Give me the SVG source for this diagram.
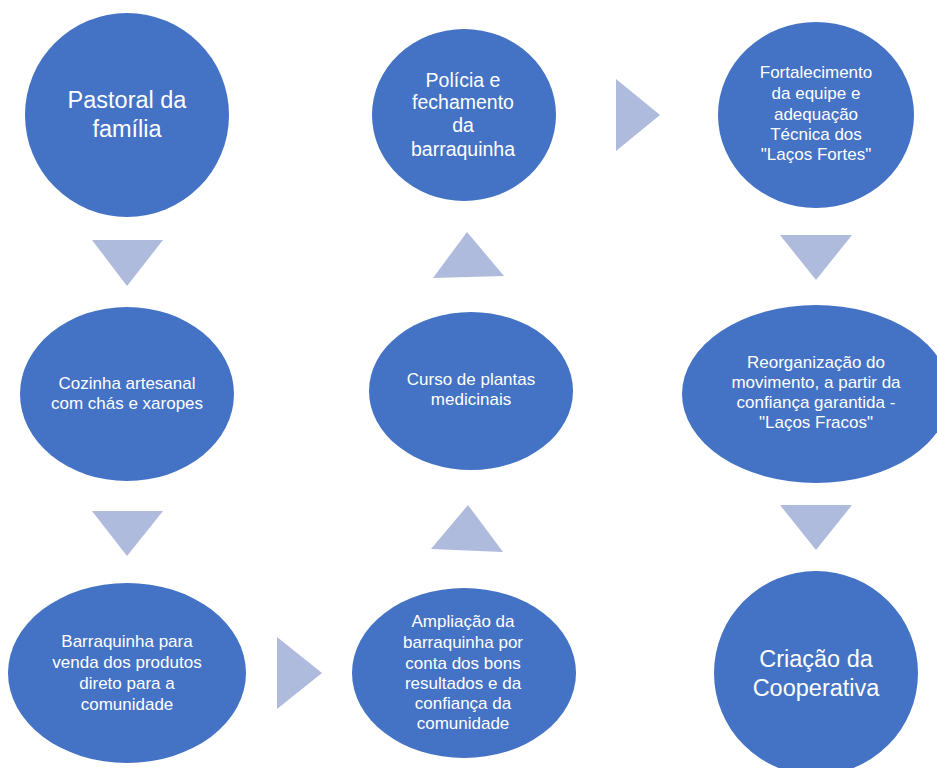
<svg xmlns="http://www.w3.org/2000/svg" width="937" height="768" viewBox="0 0 937 768">
<style>
.node{fill:#4472C4;}
.arr{fill:#AFBBDC;}
text{font-family:"Liberation Sans",Arial,sans-serif;fill:#FFFFFF;text-anchor:middle;}
.s{font-size:17px;}
.m{font-size:19.5px;}
.b{font-size:23.5px;}
</style>
<rect width="937" height="768" fill="#FFFFFF"/>
<g id="connectors">
<polygon class="arr" points="92,240 163,240 127,286"/>
<polygon class="arr" points="92,511 163,511 127,556"/>
<polygon class="arr" points="277,637 277,709 322,673"/>
<polygon class="arr" points="431,549 503,552 468,505"/>
<polygon class="arr" points="433,278 504,276 467,232"/>
<polygon class="arr" points="616,79 616,151 660,115"/>
<polygon class="arr" points="780,235 852,235 816,280"/>
<polygon class="arr" points="780,505 852,505 816,550"/>
</g>
<g id="n1">
<ellipse class="node" cx="127" cy="115" rx="102" ry="102"/>
<text class="b" x="127" y="108">Pastoral da</text>
<text class="b" x="127" y="137">família</text>
</g>
<g id="n2">
<ellipse class="node" cx="127" cy="394" rx="107" ry="87"/>
<text class="s" x="127" y="389">Cozinha artesanal</text>
<text class="s" x="127" y="409">com chás e xaropes</text>
</g>
<g id="n3">
<ellipse class="node" cx="127" cy="673" rx="119" ry="90"/>
<text class="s" x="127" y="647">Barraquinha para</text>
<text class="s" x="127" y="668">venda dos produtos</text>
<text class="s" x="127" y="689">direto para a</text>
<text class="s" x="127" y="710">comunidade</text>
</g>
<g id="n4">
<ellipse class="node" cx="464" cy="673" rx="112" ry="85"/>
<text class="s" x="463" y="627">Ampliação da</text>
<text class="s" x="463" y="648">barraquinha por</text>
<text class="s" x="463" y="669">conta dos bons</text>
<text class="s" x="463" y="689">resultados e da</text>
<text class="s" x="463" y="709">confiança da</text>
<text class="s" x="463" y="729">comunidade</text>
</g>
<g id="n5">
<ellipse class="node" cx="471" cy="391" rx="102" ry="79"/>
<text class="s" x="471" y="385">Curso de plantas</text>
<text class="s" x="471" y="405">medicinais</text>
</g>
<g id="n6">
<ellipse class="node" cx="464" cy="115" rx="92" ry="86"/>
<text class="m" x="463" y="87">Polícia e</text>
<text class="m" x="463" y="109">fechamento</text>
<text class="m" x="463" y="132">da</text>
<text class="m" x="463" y="156">barraquinha</text>
</g>
<g id="n7">
<ellipse class="node" cx="816" cy="115" rx="98" ry="93"/>
<text class="s" x="816" y="78">Fortalecimento</text>
<text class="s" x="816" y="99">da equipe e</text>
<text class="s" x="816" y="120">adequação</text>
<text class="s" x="816" y="140">Técnica dos</text>
<text class="s" x="816" y="160">"Laços Fortes"</text>
</g>
<g id="n8">
<ellipse class="node" cx="816" cy="394" rx="134" ry="89"/>
<text class="s" x="816" y="368">Reorganização do</text>
<text class="s" x="816" y="388">movimento, a partir da</text>
<text class="s" x="816" y="408">confiança garantida -</text>
<text class="s" x="816" y="428">"Laços Fracos"</text>
</g>
<g id="n9">
<ellipse class="node" cx="816" cy="673" rx="102" ry="102"/>
<text class="b" x="816" y="667">Criação da</text>
<text class="b" x="816" y="696">Cooperativa</text>
</g>
</svg>
